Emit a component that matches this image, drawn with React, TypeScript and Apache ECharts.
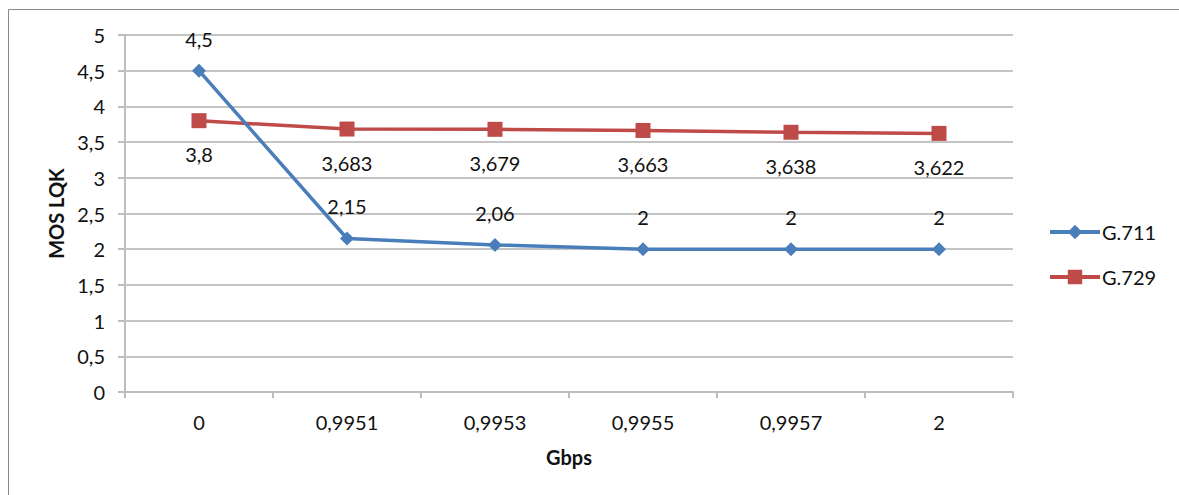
import React, { useEffect, useRef } from "react";
import * as echarts from "echarts";

const categories = ["0", "0,9951", "0,9953", "0,9955", "0,9957", "2"];
const g711 = [4.5, 2.15, 2.06, 2, 2, 2];
const g729 = [3.8, 3.683, 3.679, 3.663, 3.638, 3.622];

const FONT = "Lato, 'Open Sans', 'Liberation Sans', sans-serif";
const TEXT = "#111111";
const comma = (v: number) => String(v).replace(".", ",");

export default function App() {
  const ref = useRef<HTMLDivElement>(null);

  useEffect(() => {
    if (!ref.current) return;
    const chart = echarts.init(ref.current, undefined, { renderer: "svg" });
    chart.setOption({
      animation: false,
      backgroundColor: "#ffffff",
      textStyle: { fontFamily: FONT },
      graphic: [
        {
          type: "rect",
          shape: { x: 8.5, y: 9.5, width: 1250, height: 600 },
          style: { fill: "none", stroke: "#8a8a8a", lineWidth: 1 },
          silent: true,
        },
      ],
      grid: { left: 125, right: 166, top: 35, bottom: 103 },
      legend: {
        orient: "vertical",
        left: 1043,
        top: 217,
        itemWidth: 50,
        itemHeight: 18,
        itemGap: 25,
        lineStyle: { width: 4 },
        textStyle: { fontFamily: FONT, fontSize: 20, color: TEXT, padding: [0, 0, 0, -3] },
        data: ["G.711", "G.729"],
      },
      xAxis: {
        type: "category",
        data: categories,
        boundaryGap: true,
        name: "Gbps",
        nameLocation: "middle",
        nameGap: 55,
        nameTextStyle: { fontFamily: FONT, fontSize: 20, fontWeight: "bold", color: TEXT },
        axisLine: { lineStyle: { color: "#bdbdbd", width: 2 } },
        axisTick: { show: true, length: 6, lineStyle: { color: "#bdbdbd", width: 2 } },
        axisLabel: { fontFamily: FONT, fontSize: 20, color: TEXT, margin: 20 },
        splitLine: { show: false },
      },
      yAxis: {
        type: "value",
        min: 0,
        max: 5,
        interval: 0.5,
        name: "MOS LQK",
        nameLocation: "middle",
        nameGap: 57,
        nameTextStyle: { fontFamily: FONT, fontSize: 20, fontWeight: "bold", color: TEXT },
        axisLine: { show: true, lineStyle: { color: "#bdbdbd", width: 2 } },
        axisTick: { show: true, length: 7, lineStyle: { color: "#bdbdbd", width: 2 } },
        axisLabel: {
          fontFamily: FONT,
          fontSize: 20,
          color: TEXT,
          margin: 20,
          formatter: (v: number) => comma(v),
        },
        splitLine: { lineStyle: { color: "#c4c4c4", width: 2 } },
      },
      series: [
        {
          name: "G.711",
          type: "line",
          data: g711,
          symbol: "diamond",
          symbolSize: 14,
          color: "#4a7ebb",
          lineStyle: { width: 3.5, color: "#4a7ebb" },
          itemStyle: { color: "#4a7ebb" },
          label: {
            show: true,
            position: "top",
            distance: 15,
            fontFamily: FONT,
            fontSize: 20,
            color: TEXT,
            formatter: (p: any) => comma(p.value),
          },
          z: 3,
        },
        {
          name: "G.729",
          type: "line",
          data: g729,
          symbol: "rect",
          symbolSize: 15,
          color: "#be4b48",
          lineStyle: { width: 3.5, color: "#be4b48" },
          itemStyle: { color: "#be4b48" },
          label: {
            show: true,
            position: "bottom",
            distance: 16,
            fontFamily: FONT,
            fontSize: 20,
            color: TEXT,
            formatter: (p: any) => comma(p.value),
          },
          z: 2,
        },
      ],
    });
    return () => chart.dispose();
  }, []);

  return (
    <div
      ref={ref}
      style={{ position: "fixed", left: 0, top: 0, width: 1179, height: 495 }}
    />
  );
}
